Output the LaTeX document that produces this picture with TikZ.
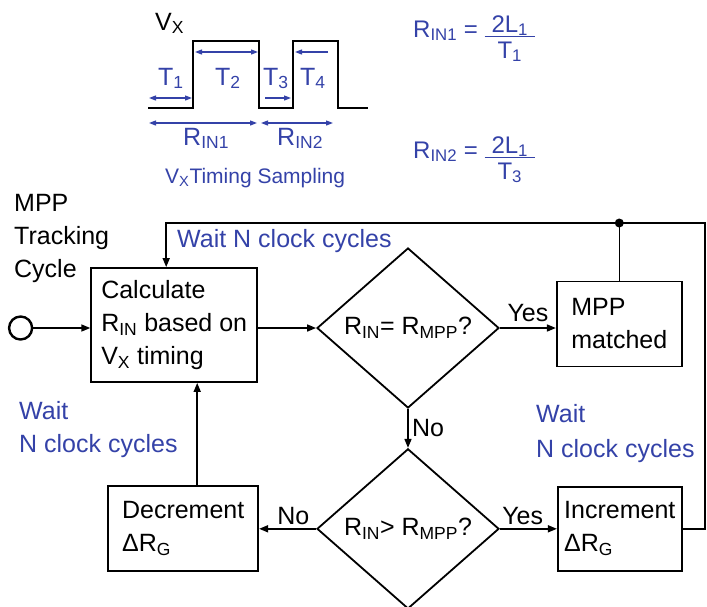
\documentclass[tikz,border=0pt]{standalone}
\usepackage{fontspec}
\setmainfont{Liberation Sans}
\usetikzlibrary{positioning, arrows.meta, shapes.geometric}
\definecolor{wblue}{RGB}{52,66,168}
\newcommand{\timefrac}[2]{\raisebox{5pt}{\renewcommand{\arraystretch}{0.05}\setlength{\arrayrulewidth}{1.3pt}\begin{tabular}[t]{@{\hspace{7pt}}c@{\hspace{7pt}}}#1\rule[-1pt]{0pt}{18pt}\\\hline\rule[-3pt]{0pt}{24pt}#2\end{tabular}}}

\begin{document}
\begin{tikzpicture}[
        x=1pt, y=1pt,
        font=\fontsize{25}{33}\selectfont,
        process/.style={draw, rectangle, line width=1.8pt, align=left, inner sep=0pt},
        decision/.style={draw, diamond, aspect=1.14, line width=1.8pt, minimum width=182pt, minimum height=160pt, inner sep=0pt},
        terminal/.style={draw, circle, line width=2.4pt, minimum size=23pt, inner sep=0pt},
        arrow/.style={-{Triangle[length=9pt, width=7pt]}, line width=1.6pt},
        line/.style={line width=1.6pt},
        note/.style={text=wblue, align=left, inner sep=0pt},
        title/.style={align=left, inner sep=0pt, anchor=north west},
        wave/.style={line width=2.2pt, line join=miter},
        span/.style={wblue, line width=1.2pt, {Triangle[length=7pt, width=5pt]}-{Triangle[length=7pt, width=5pt]}},
        pointer/.style={wblue, line width=1.2pt, -{Triangle[length=7pt, width=5pt]}},
        timing/.style={text=wblue, inner sep=0pt, anchor=base west}
    ]
    \useasboundingbox (0,0) rectangle (707,-606);

    % timing waveform
    \draw[wave] (148,-108) -| (193,-41) -| (259,-108) -| (293,-41) -| (338,-108) -- (368,-108);
    \node[timing, text=black] (Vx) at (155,-30) {V\textsubscript{X}};
    \node[timing] (T1) at (158,-85) {T\textsubscript{1}};
    \node[timing] (T2) at (215,-85) {T\textsubscript{2}};
    \node[timing] (T3) at (263,-85) {T\textsubscript{3}};
    \node[timing] (T4) at (300,-85) {T\textsubscript{4}};
    \node[timing] (Rin1) at (183,-145) {R\textsubscript{IN1}};
    \node[timing] (Rin2) at (277,-145) {R\textsubscript{IN2}};
    \node[timing, font=\fontsize{21}{25}\selectfont] (Sampling) at (165,-183) {V\textsubscript{X}Timing Sampling};
    \draw[span] (149,-98) -- (192,-98);
    \draw[span] (195,-52) -- (258,-52);
    \draw[pointer] (265,-98) -- (291,-98);
    \draw[pointer] (328,-52) -- (295,-52);
    \draw[span] (149,-123) -- (257,-123);
    \draw[span] (261,-123) -- (333,-123);

    % formulas
    \node[timing, font=\fontsize{24}{26}\selectfont] (FormA) at (413,-37) {R\textsubscript{IN1} = \timefrac{2L\textsubscript{1}}{T\textsubscript{1}}};
    \node[timing, font=\fontsize{24}{26}\selectfont] (FormB) at (413,-158) {R\textsubscript{IN2} = \timefrac{2L\textsubscript{1}}{T\textsubscript{3}}};

    % flow chart
    \node[decision] (Equal) at (408,-328) {R\textsubscript{IN}= R\textsubscript{MPP}?};
    \node[process, minimum width=166pt, minimum height=114pt, left=58pt of Equal, yshift=3pt] (Calc) {Calculate\\R\textsubscript{IN} based on\\V\textsubscript{X} timing};
    \node[terminal, left=57pt of Calc, yshift=-3pt] (Start) {};
    \node[process, minimum width=125pt, minimum height=85pt, right=56pt of Equal, yshift=4pt] (Matched) {MPP\\matched};
    \node[decision, below=39pt of Equal] (Greater) {R\textsubscript{IN}> R\textsubscript{MPP}?};
    \node[process, minimum width=150pt, minimum height=85pt, left=57pt of Greater] (Dec) {Decrement\\ΔR\textsubscript{G}};
    \node[process, minimum width=124pt, minimum height=84pt, right=57pt of Greater] (Inc) {Increment\\ΔR\textsubscript{G}};

    \node[title] (Cycle) at (14,-194) {MPP\\Tracking\\Cycle};
    \node[note, anchor=base west] (WaitTop) at (177,-247) {Wait N clock cycles};
    \node[note, anchor=north west] (WaitLeft) at (19,-401) {Wait\\N clock cycles};
    \node[note, anchor=north west] (WaitRight) at (536,-404) {Wait\\[2pt]N clock cycles};

    \coordinate (LoopCorner) at (705,-223);
    \coordinate (Junction) at (Matched.north |- LoopCorner);

    \draw[arrow] (Start) -- (Calc.west |- Start);
    \draw[arrow] (Calc.east |- Equal) -- (Equal);
    \draw[arrow] (Equal) -- node[above, yshift=2pt] {Yes} (Matched.west |- Equal);
    \draw[arrow] (Equal) -- node[right] {No} (Greater);
    \draw[arrow] (Greater) -- node[above, pos=0.4] {No} (Dec);
    \draw[arrow] (Greater) -- node[above, pos=0.4] {Yes} (Inc);
    \draw[arrow] ([xshift=14pt]Dec.north) -- ([xshift=14pt]Dec.north |- Calc.south);
    \draw[arrow] (Inc) -| (LoopCorner) -- ([xshift=-8pt]Calc.north |- LoopCorner) -- ([xshift=-8pt]Calc.north);
    \draw[line] (Matched) -- (Junction);
    \fill (Junction) circle (4.5);

\end{tikzpicture}
\end{document}
